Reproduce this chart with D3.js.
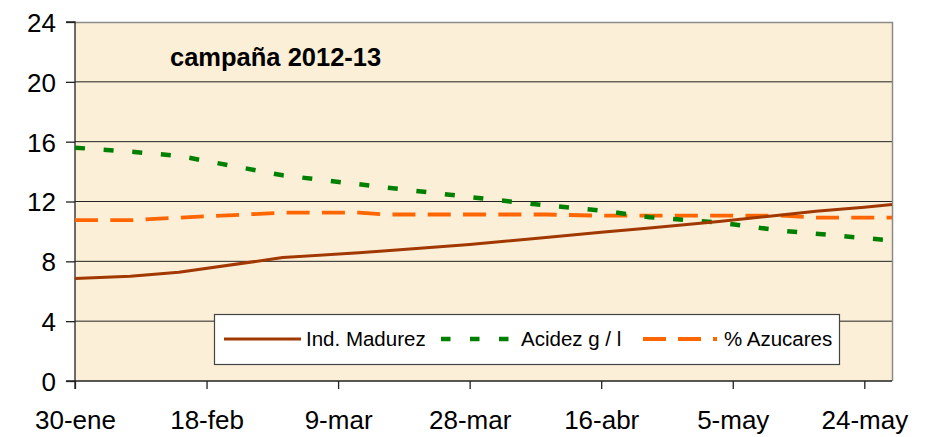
<!DOCTYPE html>
<html><head><meta charset="utf-8">
<script src="https://cdn.jsdelivr.net/npm/d3@7"></script>
<style>body{margin:0;background:#fff;}svg{display:block;font-family:"Liberation Sans",Arial,sans-serif;}</style>
</head><body>
<svg id="c" width="928" height="437"></svg>
<script>
const dates = ["2013-01-30","2013-02-07","2013-02-14","2013-03-01","2013-03-12","2013-03-16","2013-03-28","2013-04-08","2013-04-16","2013-04-23","2013-05-03","2013-05-12","2013-05-17","2013-05-24","2013-05-28"];
const madurez = [6.85,7.0,7.27,8.25,8.57,8.7,9.13,9.6,9.94,10.23,10.66,11.1,11.35,11.62,11.8];
const acidez  = [15.6,15.33,15.05,13.75,13.15,12.93,12.3,11.74,11.4,10.95,10.6,10.05,9.85,9.55,9.4];
const azucares= [10.75,10.75,10.92,11.25,11.25,11.13,11.13,11.13,11.05,11.05,11.05,11.05,10.92,10.92,10.92];
const tickDates = ["2013-01-30","2013-02-18","2013-03-09","2013-03-28","2013-04-16","2013-05-05","2013-05-24"];
const tickLabels = ["30-ene","18-feb","9-mar","28-mar","16-abr","5-may","24-may"];
const yTicks = [0,4,8,12,16,20,24];
const title = "campaña 2012-13";
const seriesNames = ["Ind. Madurez","Acidez g / l","% Azucares"];

const parse = d3.timeParse("%Y-%m-%d");
const svg = d3.select("#c");
const L=75,R=892,T=22,B=381;
const x = d3.scaleTime().domain([parse("2013-01-30"),parse("2013-05-28")]).range([L,R]);
const y = d3.scaleLinear().domain([0,24]).range([B,T]);

svg.append("rect").attr("x",L).attr("y",T).attr("width",R-L).attr("height",B-T).attr("fill","#fcefd7");
svg.append("g").selectAll("line").data(yTicks.filter(v=>v>0&&v<24)).join("line")
  .attr("x1",L).attr("x2",R).attr("y1",d=>y(d)).attr("y2",d=>y(d)).attr("stroke","#222").attr("stroke-width",1);
svg.append("path").attr("d",`M${L},${T+0.5}H${R+0.5}V${B}`).attr("fill","none").attr("stroke","#8a8a8a").attr("stroke-width",1.5);

const yAxis = d3.axisLeft(y).tickValues(yTicks).tickSize(9).tickPadding(10).tickFormat(d3.format("d"));
const gy = svg.append("g").attr("transform",`translate(${L},0)`).call(yAxis);
const xAxis = d3.axisBottom(x).tickValues(tickDates.map(parse)).tickSize(8).tickPadding(22)
  .tickFormat((d,i)=>tickLabels[i]);
const gx = svg.append("g").attr("transform",`translate(0,${B})`).call(xAxis);
[gx,gy].forEach(g=>{
  g.select(".domain").attr("stroke","#222").attr("stroke-width",1.3);
  g.selectAll(".tick line").attr("stroke","#222").attr("stroke-width",1.3);
  g.selectAll("text").attr("font-size",26).attr("fill","#000").attr("font-family","Liberation Sans, Arial, sans-serif");
});
gy.select(".domain").attr("d",`M-9,${B}H0V${T}H-9`);
gx.select(".domain").attr("d",`M${L},8V0H${R}`);
gy.selectAll("text").attr("dy","0.36em");

const styles = [
  {c:"#a03800",w:3,dash:null},
  {c:"#008000",w:4.5,dash:"10,18.7"},
  {c:"#ff6600",w:3.8,dash:"23,12.3"}
];
const data = [madurez,acidez,azucares];
const line = d3.line().x((d,i)=>x(parse(dates[i]))).y(d=>y(d));
[2,1,0].forEach(k=>{
  svg.append("path").datum(data[k]).attr("d",line).attr("fill","none")
    .attr("stroke",styles[k].c).attr("stroke-width",styles[k].w)
    .attr("stroke-dasharray",styles[k].dash).attr("stroke-linejoin","round");
});

svg.append("text").attr("x",170).attr("y",66).attr("font-size",25.5).attr("font-weight","bold").text(title);

const lg = svg.append("g");
lg.append("rect").attr("x",214.5).attr("y",314.5).attr("width",625).attr("height",50).attr("fill","#fff").attr("stroke","#444").attr("stroke-width",1.2);
const items = [
  {x1:224,x2:301,tx:306},
  {x1:441,x2:510,tx:521},
  {x1:643,x2:717,tx:724}
];
const legDash = [null,"9.5,19.5","23,12"];
items.forEach((it,k)=>{
  lg.append("line").attr("x1",it.x1).attr("x2",it.x2).attr("y1",339).attr("y2",339)
    .attr("stroke",styles[k].c).attr("stroke-width",k==1?4.5:(k==2?4:3.2)).attr("stroke-dasharray",legDash[k]);
  lg.append("text").attr("x",it.tx).attr("y",346).attr("font-size",20.5).text(seriesNames[k]);
});
</script>
</body></html>
